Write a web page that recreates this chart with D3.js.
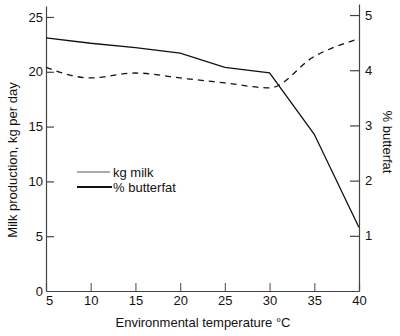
<!DOCTYPE html>
<html>
<head>
<meta charset="utf-8">
<script src="https://cdn.jsdelivr.net/npm/d3@7"></script>
<style>
  body { margin: 0; background: #fff; }
  text { font-family: "Liberation Sans", Arial, sans-serif; fill: #111; }
</style>
</head>
<body>
<div id="chart-area"></div>
<script>
// Data
var temperatures = [5, 10, 15, 20, 25, 30, 35, 40];
var milkKg = [23.1, 22.6, 22.2, 21.7, 20.4, 19.9, 14.3, 5.8];
var butterfatPct = [4.05, 3.86, 3.95, 3.86, 3.77, 3.68, 4.25, 4.57];
var xTicks = [5, 10, 15, 20, 25, 30, 35, 40];
var leftTicks = [0, 5, 10, 15, 20, 25];
var rightTicks = [1, 2, 3, 4, 5];

var width = 400, height = 336;

var svg = d3.select("#chart-area").append("svg")
	.attr("width", width)
	.attr("height", height);

// Scales
var x = d3.scaleLinear().domain([5, 40]).range([46, 359]);
var yLeft = d3.scaleLinear().domain([0, 26]).range([291, 6]);
var yRight = d3.scaleLinear().domain([0, 5.2]).range([291, 4]);

// Axes
var xAxis = d3.axisBottom(x)
	.tickValues(xTicks)
	.tickSizeInner(-8)
	.tickSizeOuter(0)
	.tickPadding(5);
var gx = svg.append("g")
	.attr("class", "x axis")
	.attr("transform", "translate(0," + 291 + ")")
	.call(xAxis);
gx.selectAll("text").attr("font-size", "13px");
gx.selectAll("text").filter((d) => d === 5).attr("dx", "3");

var leftAxis = d3.axisLeft(yLeft)
	.tickValues(leftTicks)
	.tickSizeInner(-8)
	.tickSizeOuter(0)
	.tickPadding(3);
var gl = svg.append("g")
	.attr("class", "y axis")
	.attr("transform", "translate(46,0)")
	.call(leftAxis);
gl.selectAll("text").attr("font-size", "13px");
gl.selectAll(".tick").filter((d) => d === 0).select("line").remove();

var rightAxis = d3.axisRight(yRight)
	.tickValues(rightTicks)
	.tickFormat(d3.format("d"))
	.tickSizeInner(-9)
	.tickSizeOuter(0)
	.tickPadding(6);
var gr = svg.append("g")
	.attr("class", "y axis right")
	.attr("transform", "translate(359,0)")
	.call(rightAxis);
gr.selectAll("text").attr("font-size", "13px");

svg.selectAll(".axis path, .axis line")
	.attr("stroke", "#444")
	.attr("stroke-width", 1.2);
svg.selectAll(".x.axis .tick line").attr("stroke", "#666");

// Lines
var milkLine = d3.line()
	.x((d, i) => x(temperatures[i]))
	.y((d) => yLeft(d));

var fatLine = d3.line()
	.x((d, i) => x(temperatures[i]))
	.y((d) => yRight(d))
	.curve(d3.curveMonotoneX);

svg.append("path")
	.datum(milkKg)
	.attr("d", milkLine)
	.attr("fill", "none")
	.attr("stroke", "#111")
	.attr("stroke-width", 1.3);

svg.append("path")
	.datum(butterfatPct)
	.attr("d", fatLine)
	.attr("fill", "none")
	.attr("stroke", "#111")
	.attr("stroke-width", 1.3)
	.attr("stroke-dasharray", "6,5");

// Legend
var legend = svg.append("g").attr("class", "legend");
legend.append("line")
	.attr("x1", 77).attr("x2", 110)
	.attr("y1", 172).attr("y2", 172)
	.attr("stroke", "#444").attr("stroke-width", 0.9);
legend.append("line")
	.attr("x1", 77).attr("x2", 112)
	.attr("y1", 187).attr("y2", 187)
	.attr("stroke", "#111").attr("stroke-width", 1.8);
legend.append("text")
	.attr("x", 113).attr("y", 176.5)
	.attr("font-size", "13px")
	.text("kg milk");
legend.append("text")
	.attr("x", 113).attr("y", 191.5)
	.attr("font-size", "13px")
	.text("% butterfat");

// Axis labels
svg.append("text")
	.attr("x", 203)
	.attr("y", 327)
	.attr("font-size", "13px")
	.attr("text-anchor", "middle")
	.text("Environmental temperature \u00B0C");

svg.append("text")
	.attr("transform", "translate(17,160) rotate(-90)")
	.attr("font-size", "13px")
	.attr("text-anchor", "middle")
	.text("Milk production, kg per day");

svg.append("text")
	.attr("transform", "translate(383,142) rotate(90)")
	.attr("font-size", "13px")
	.attr("text-anchor", "middle")
	.text("% butterfat");
</script>
</body>
</html>
